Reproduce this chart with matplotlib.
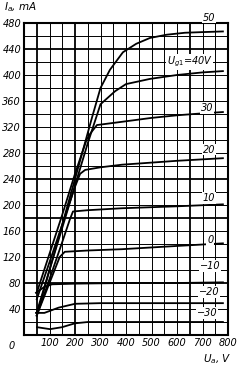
import numpy as np
import matplotlib
matplotlib.use('Agg')
from matplotlib import pyplot as plt

# anode characteristics Ia(Ua) for several Ug1
ua_50 = [50, 100, 150, 200, 267, 300, 337, 388, 440, 494, 560, 631, 700, 780]
ia_50 = [30, 100, 170, 240, 335, 380, 408, 435, 448, 457, 462, 465, 466, 467]

ua_40 = [50, 100, 150, 200, 250, 300, 357, 400, 494, 600, 700, 780]
ia_40 = [35, 100, 165, 230, 295, 355, 375, 386, 394, 400, 404, 406]

ua_30 = [50, 100, 150, 200, 245, 260, 286, 384, 500, 600, 700, 780]
ia_30 = [65, 125, 185, 248, 300, 310, 323, 328, 334, 338, 341, 343]

ua_20 = [50, 100, 150, 200, 220, 240, 300, 384, 600, 780]
ia_20 = [55, 112, 170, 228, 248, 254, 258, 262, 268, 272]

ua_10 = [50, 100, 150, 180, 192, 250, 384, 600, 780]
ia_10 = [30, 86, 143, 178, 190, 192, 195, 198, 201]

ua_0 = [50, 100, 140, 160, 250, 384, 600, 780]
ia_0 = [30, 80, 120, 128, 130, 132, 137, 141]

ua_m10 = [47, 80, 110, 200, 400, 600, 780]
ia_m10 = [65, 74, 78, 79, 80, 80, 81]

ua_m20 = [47, 80, 135, 200, 300, 500, 780]
ia_m20 = [34, 34, 42, 48, 49, 49, 49]

ua_m30 = [51, 102, 149, 200, 251, 500, 780]
ia_m30 = [12, 9, 12, 18, 20, 20, 20]

curves = [(ua_50, ia_50), (ua_40, ia_40), (ua_30, ia_30), (ua_20, ia_20),
          (ua_10, ia_10), (ua_0, ia_0), (ua_m10, ia_m10), (ua_m20, ia_m20),
          (ua_m30, ia_m30)]

curve_labels = ['50', '$U_{g1}$=40V', '30', '20', '10', '0', '\u221210', '\u221220', '\u221230']
label_ua = [725, 650, 718, 725, 725, 730, 730, 725, 718]
label_ia = [488, 420, 349, 285, 211, 146, 106, 66, 34]

x_ticks = [100, 200, 300, 400, 500, 600, 700, 800]
y_ticks = [40, 80, 120, 160, 200, 240, 280, 320, 360, 400, 440, 480]


def main():
    fig = plt.figure(figsize=(2.44, 3.70), dpi=100)
    ax = fig.add_axes([24/244, 35/370, 204/244, 312/370])
    ax.set_xlim(0, 800)
    ax.set_ylim(0, 480)

    # grid, a few lines drawn heavier as in the print
    for xv in np.arange(50, 800, 50):
        lw = 1.3 if xv in (50, 200, 650) else 0.7
        ax.axvline(xv, color='black', lw=lw, zorder=1)
    for yv in np.arange(20, 480, 20):
        lw = 1.3 if yv in (80, 180, 240, 440) else 0.7
        ax.axhline(yv, color='black', lw=lw, zorder=1)

    for ua, ia in curves:
        ax.plot(ua, ia, color='black', lw=1.3, zorder=3)

    for txt, xv, yv in zip(curve_labels, label_ua, label_ia):
        ax.text(xv, yv, txt, fontsize=7, style='italic', ha='center', va='center',
                zorder=5, clip_on=False,
                bbox=dict(facecolor='white', edgecolor='none', pad=0.5))

    for sp in ax.spines.values():
        sp.set_linewidth(1.5)

    ax.set_xticks(x_ticks)
    ax.set_yticks(y_ticks)
    ax.set_xticklabels([str(v) for v in x_ticks], fontsize=7, style='italic')
    ax.set_yticklabels([str(v) for v in y_ticks], fontsize=7, style='italic')
    ax.tick_params(length=0, pad=2)
    ax.text(-47, -17, '0', fontsize=7, style='italic', ha='center', va='center', clip_on=False)

    ax.text(-80, 505, '$I_a$, mA', fontsize=7.5, style='italic', ha='left', va='center', clip_on=False)
    ax.text(760, -37, '$U_a$, V', fontsize=7.5, style='italic', ha='center', va='center', clip_on=False)

    fig.savefig('out.png', dpi=100)
    plt.close(fig)


if __name__ == "__main__": main()
